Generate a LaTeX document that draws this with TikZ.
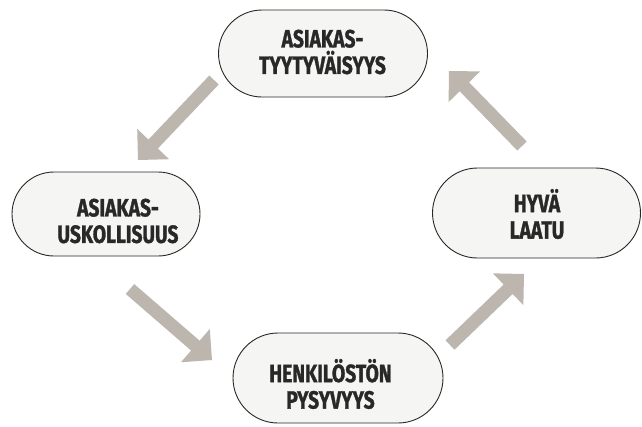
\documentclass[tikz,border=0pt]{standalone}
\usepackage{fontspec}
\setmainfont{Fira Sans}[FakeStretch=0.77, BoldFeatures={FakeBold=1.2}]
\usetikzlibrary{shapes.misc,calc}
\definecolor{arrowgray}{RGB}{189,182,175}
\definecolor{pillfill}{RGB}{245,245,243}
\definecolor{inkc}{RGB}{40,40,40}
\newcommand\fatarrow[2]{%
  \coordinate (hb) at ($(#2)!22pt!(#1)$);
  \fill[arrowgray] ($(#1)!6.5pt!90:(#2)$) -- ($(hb)!6.5pt!-90:(#1)$) -- ($(hb)!22pt!-90:(#1)$) -- (#2)
    -- ($(hb)!22pt!90:(#1)$) -- ($(hb)!6.5pt!90:(#1)$) -- ($(#1)!6.5pt!-90:(#2)$) -- cycle;}
\begin{document}
\begin{tikzpicture}[x=1pt,y=-1pt,
  pill/.style={rounded rectangle, draw=inkc, line width=0.9pt, fill=pillfill, inner sep=0pt},
  lbl/.style={font=\bfseries\fontsize{25}{26.5}\selectfont, text=inkc, align=center, inner sep=0pt}]
\useasboundingbox[fill=white] (0,0) rectangle (642,426);
% nodes
\node[pill, minimum width=209pt, minimum height=87pt] (sat) at (323,53.5) {};
\node[lbl] (satt) at (322.5,52) {ASIAKAS-\\TYYTYVÄISYYS};
\node[pill, minimum width=188pt, minimum height=84pt] (loy) at (106,214) {};
\node[lbl] (loyt) at (118,221) {ASIAKAS-\\USKOLLISUUS};
\node[pill, minimum width=208pt, minimum height=90pt] (qual) at (536.5,213) {};
\node[lbl] (qualt) at (537,214) {HYVÄ\\LAATU};
\node[pill, minimum width=210pt, minimum height=90pt] (staff) at (338,378) {};
\node[lbl] (stafft) at (330.5,384) {HENKILÖSTÖN\\PYSYVYYS};
% arrows
\coordinate (a1s) at (214,80);  \coordinate (a1e) at (138,160);
\coordinate (a2s) at (130,289); \coordinate (a2e) at (212,360);
\coordinate (a3s) at (450,345); \coordinate (a3e) at (524,274);
\coordinate (a4s) at (522,146); \coordinate (a4e) at (449,71);
\fatarrow{a1s}{a1e}
\fatarrow{a2s}{a2e}
\fatarrow{a3s}{a3e}
\fatarrow{a4s}{a4e}
\end{tikzpicture}
\end{document}
